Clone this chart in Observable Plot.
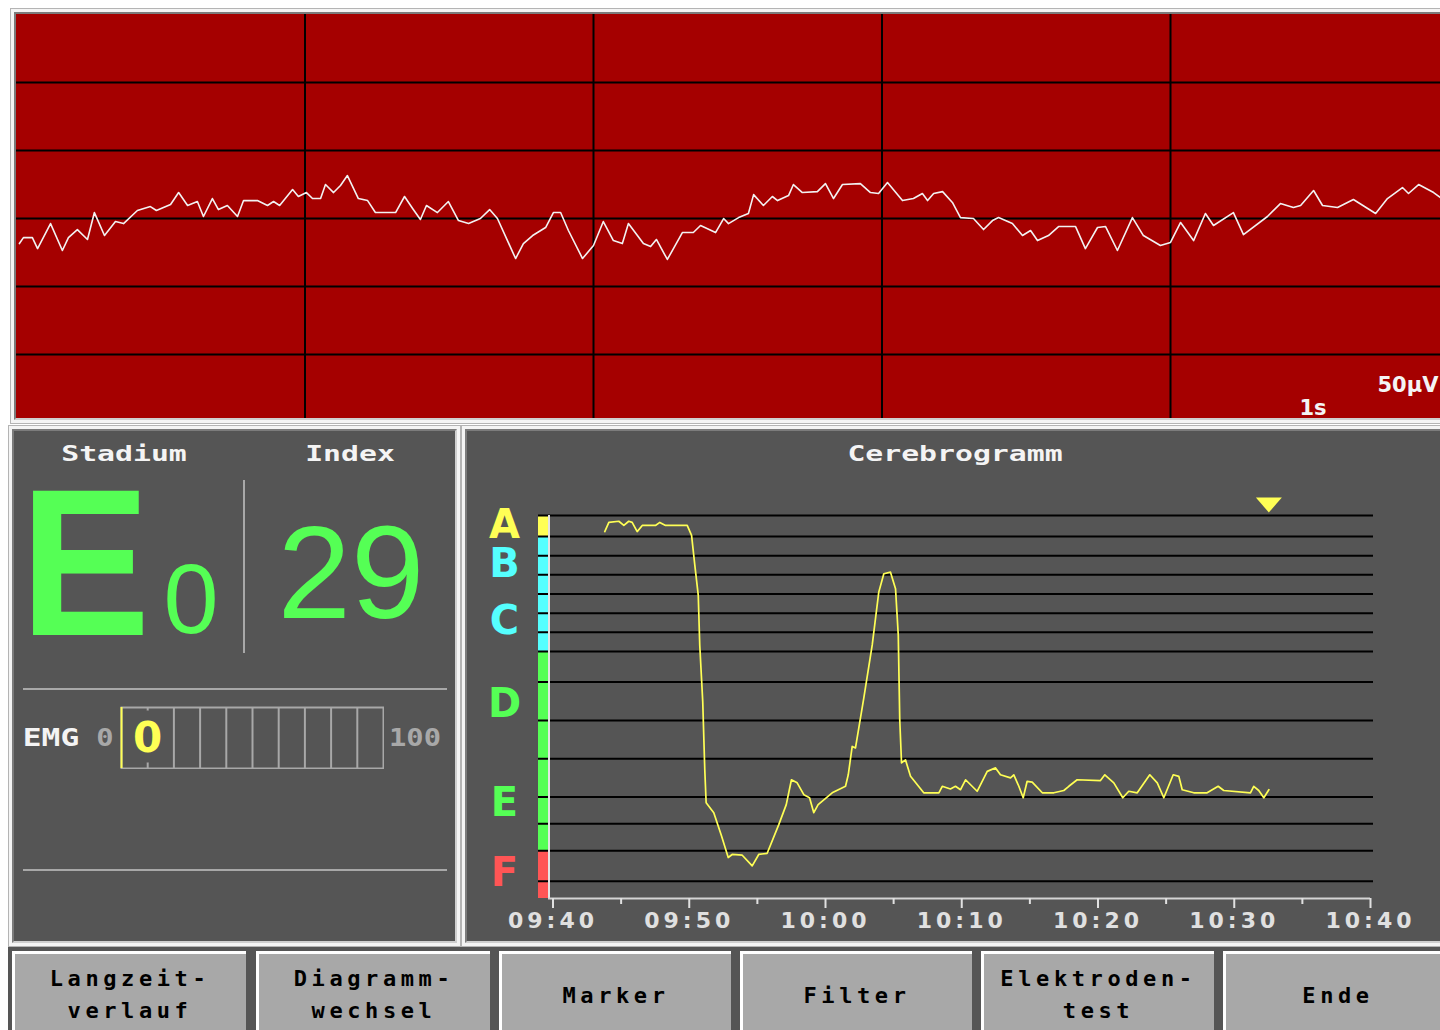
<!DOCTYPE html>
<html>
<head>
<meta charset="utf-8">
<script src="https://cdn.jsdelivr.net/npm/d3@7"></script>
<script src="https://cdn.jsdelivr.net/npm/@observablehq/plot@0.6"></script>
<style>
html, body { margin:0; padding:0; background:#ffffff; }
#screen { position:relative; width:1440px; height:1030px; overflow:hidden; background:#ffffff; }
.bev { position:absolute; background:#b4b4b4; }
.bev > .hi { position:absolute; left:1px; top:1px; right:1px; bottom:1px; background:#f4f4f4; }
.bev > .hi > .fill { position:absolute; left:3px; top:3px; right:3px; bottom:3px; box-sizing:border-box; border:2px solid; border-color:#7c7c7c #cfcfcf #cfcfcf #7c7c7c; }
.btn { position:absolute; top:951px; height:82px; box-sizing:border-box; background:#a8a8a8; border-top:3px solid #ffffff; border-left:3px solid #ffffff; }
#cg text { letter-spacing: 4px; }
</style>
</head>
<body>
<div id="screen"></div>
<script>
// ---------------- DATA ----------------
// Raw EEG (top trace): time in seconds, amplitude in µV
const eegSeconds = [0.010,0.024,0.055,0.073,0.118,0.159,0.180,0.211,0.246,0.270,0.305,0.343,0.371,0.419,0.464,0.485,0.534,0.562,0.593,0.627,0.648,0.679,0.700,0.731,0.766,0.787,0.835,0.870,0.891,0.912,0.957,0.977,1.005,1.026,1.054,1.071,1.099,1.123,1.147,1.185,1.217,1.244,1.314,1.345,1.373,1.400,1.421,1.459,1.497,1.532,1.567,1.608,
1.640,1.667,1.730,1.757,1.789,1.834,1.861,1.886,1.913,1.962,2.000,2.034,2.069,2.100,2.121,2.173,2.198,2.218,2.256,2.308,2.346,2.371,2.423,2.451,2.468,2.503,2.537,2.555,2.589,2.620,2.638,2.676,2.693,2.724,2.776,2.804,2.832,2.863,2.925,2.960,2.988,3.019,3.071,3.109,3.140,3.158,3.179,3.210,3.244,3.272,
3.317,3.352,3.383,3.404,3.452,3.487,3.515,3.539,3.577,3.612,3.671,3.705,3.747,3.775,3.816,3.868,3.906,3.965,4.000,4.035,4.080,4.121,4.149,4.218,4.253,4.336,4.381,4.426,4.451,4.496,4.527,4.579,4.634,4.711,4.752,4.804,4.825,4.860,4.912,4.936];
const eegMicrovolts = [-18.4,-14.0,-14.0,-22.1,-3.7,-23.5,-14.0,-8.1,-15.4,4.4,-12.5,-2.2,-3.7,5.9,8.8,5.9,10.3,19.1,9.6,12.5,1.5,14.7,6.6,9.6,1.5,13.2,13.2,9.6,12.5,9.6,21.3,16.2,19.1,14.7,14.7,25.0,19.1,24.3,31.6,14.7,13.2,4.4,4.4,16.2,7.4,-0.7,9.6,4.4,12.5,-1.5,-3.7,0,
6.6,0,-29.4,-18.4,-12.5,-6.6,4.4,4.4,-8.8,-29.4,-19.8,-2.2,-16.2,-18.4,-3.7,-18.4,-20.6,-15.4,-30.1,-10.3,-10.3,-5.1,-10.3,0,-3.7,0.7,3.7,17.6,9.6,16.2,13.2,16.9,25.0,19.1,19.8,25.7,14.7,25.0,25.7,19.1,18.4,26.5,13.2,14.7,18.4,13.2,18.4,19.8,11.8,0.7,
0,-8.1,-1.5,0.7,-3.7,-12.5,-8.8,-16.2,-12.5,-5.9,-5.9,-22.1,-6.6,-5.9,-23.5,0.7,-12.5,-19.8,-17.6,-2.9,-16.2,3.7,-5.1,4.4,-11.8,1.5,11.0,8.1,9.6,20.6,9.6,8.1,14.0,3.7,14.7,22.8,18.4,25.0,19.1,15.4];
const eegGridSeconds = [1, 2, 3, 4];
const eegGridMicrovolts = [100, 50, 0, -50, -100];
const eegVisibleSeconds = [0, 5];
const eegVisibleMicrovolts = [-147, 150];
const eegTimeScaleLabel = ["1s"];
const eegAmplitudeScaleLabel = ["50µV"];

// Cerebrogramm: minutes after 09:40, Narcotrend index (0–100)
const cgMinutes = [3.80,4.10,4.83,5.20,5.56,5.81,6.18,6.55,7.52,7.84,8.26,9.85,10.17,10.41,10.66,10.77,10.99,11.14,11.24,11.80,12.37,12.86,13.15,13.89,14.62,15.10,15.72,16.57,17.12,17.50,17.92,18.41,18.83,19.14,19.46,20.49,21.47,21.67,21.96,22.20,22.81,23.43,23.91,24.28,24.77,25.14,25.34,25.45,25.58,25.87,26.24,27.21,28.32,28.57,29.17,29.54,29.91,30.28,31.13,31.87,32.48,32.84,33.58,33.82,34.19,34.51,34.80,35.17,35.91,36.76,37.49,37.86,38.47,40.18,40.50,41.16,41.82,42.26,42.88,43.80,44.35,44.83,45.52,45.93,46.18,47.03,48.01,48.82,49.23,51.19,51.43,51.80,52.17,52.54];
const cgIndex = [95.8,98.2,98.5,97.4,98.5,98.2,95.8,97.4,97.4,98.2,97.4,97.4,94.8,87.0,79.2,66.2,51.4,33.6,25.0,22.4,16.3,10.7,11.5,11.3,8.5,11.5,11.8,19.3,24.5,31.0,30.2,27.1,26.3,22.4,24.5,27.6,29.3,32.3,39.7,39.3,52.3,66.2,80.0,84.8,85.2,80.9,68.8,46.6,35.4,36.2,31.9,27.6,27.6,29.3,28.6,29.3,28.4,31.0,28.0,33.2,34.1,32.3,31.5,32.3,29.3,26.3,30.6,30.4,27.6,27.6,28.2,29.3,31.0,30.8,32.3,30.2,26.3,28.0,27.6,32.3,30.2,26.3,32.3,31.9,28.4,27.6,27.6,29.3,28.2,27.6,29.3,28.2,26.3,28.4];
const cgCurrentMinute = [52.54];
const cgMinuteDomain = [0, 60];
const cgIndexDomain = [0, 100];
const stageLetters = ["A", "B", "C", "D", "E", "F"];
const stageUpper = [100, 94.5, 79.5, 64.5, 36.5, 12.5];
const stageLower = [94.5, 79.5, 64.5, 36.5, 12.5, 0];
const substageBoundaries = [100, 94.5, 89.5, 84.5, 79.5, 74.5, 69.5, 64.5, 56.5, 46.5, 36.5, 26.5, 19.5, 12.5, 4.5];
const timeTickMinutes = [0, 10, 20, 30, 40, 50, 60];
const timeTickLabels = ["09:40", "09:50", "10:00", "10:10", "10:20", "10:30", "10:40"];
const timeMinorMinutes = [5, 15, 25, 35, 45, 55];

// Stadium / Index / EMG
const stadiumStage = "E";
const stadiumSubstage = "0";
const narcotrendIndex = 29;
const emgValue = [0];
const emgDomain = [0, 100];
const emgGrid = [10, 20, 30, 40, 50, 60, 70, 80, 90];
const emgEndLabels = ["0", "100"];

// Texts
const panelTitles = ["Stadium", "Index", "Cerebrogramm"];
const buttonLabels = [["Langzeit-", "verlauf"], ["Diagramm-", "wechsel"], ["Marker"], ["Filter"], ["Elektroden-", "test"], ["Ende"]];

// ---------------- STYLE ----------------
const stageColor = {A: "#ffff55", B: "#55ffff", C: "#55ffff", D: "#55ff55", E: "#55ff55", F: "#ff5555"};
const GREEN = "#55ff55", YELLOW = "#ffff55", PANEL = "#555555", LINEGRAY = "#a8a8a8";

const screen = document.getElementById("screen");
function bevel(x, y, w, h, fill) {
  const o = document.createElement("div"); o.className = "bev";
  Object.assign(o.style, {left: x + "px", top: y + "px", width: w + "px", height: h + "px"});
  const hi = document.createElement("div"); hi.className = "hi";
  const f = document.createElement("div"); f.className = "fill"; f.style.background = fill;
  hi.appendChild(f); o.appendChild(hi); screen.appendChild(o);
}
function place(node, x, y, id) {
  node.style.position = "absolute"; node.style.left = x + "px"; node.style.top = y + "px";
  node.style.maxWidth = "none";
  if (id) node.id = id;
  screen.appendChild(node);
}

// panels
bevel(10, 8, 1500, 416, "#a50000");
bevel(8, 425, 453, 522, PANEL);
bevel(461, 425, 1000, 522, PANEL);
const bar = document.createElement("div");
Object.assign(bar.style, {position: "absolute", left: "8px", top: "947px", width: "1440px", height: "90px", background: PANEL});
screen.appendChild(bar);
const buttonX = [[12, 246], [256, 490], [499, 731], [740, 972], [981, 1214], [1223, 1460]];
buttonX.forEach(([a, b]) => {
  const d = document.createElement("div"); d.className = "btn";
  d.style.left = a + "px"; d.style.width = (b - a) + "px";
  screen.appendChild(d);
});

// ---------------- EEG ----------------
const eegData = eegSeconds.map((t, i) => ({t, v: eegMicrovolts[i]}));
const eegPlot = Plot.plot({
  width: 1443, height: 404, margin: 0,
  x: {domain: eegVisibleSeconds, range: [0, 1442.5], axis: null, label: null},
  y: {domain: eegVisibleMicrovolts, axis: null, label: null},
  style: {background: "#a50000", fontFamily: "DejaVu Sans", fontWeight: "bold", maxWidth: "none"},
  marks: [
    Plot.ruleX(eegGridSeconds, {stroke: "#000", strokeWidth: 2}),
    Plot.ruleY(eegGridMicrovolts, {stroke: "#000", strokeWidth: 2}),
    Plot.line(eegData, {x: "t", y: "v", stroke: "#f2f2f2", strokeWidth: 1.6}),
    Plot.text(eegTimeScaleLabel, {text: d => d, frameAnchor: "bottom-left", textAnchor: "start", lineAnchor: "bottom", dx: 1283, dy: -4, fill: "#f4f4f4", fontSize: 21}),
    Plot.text(eegAmplitudeScaleLabel, {text: d => d, frameAnchor: "bottom-left", textAnchor: "start", lineAnchor: "bottom", dx: 1361, dy: -27, fill: "#f4f4f4", fontSize: 21})
  ]
});
place(eegPlot, 16, 14, "eeg");

// ---------------- CEREBROGRAMM ----------------
const cgData = cgMinutes.map((m, i) => ({m, v: cgIndex[i]}));
const stages = stageLetters.map((s, i) => ({s, hi: stageUpper[i], lo: stageLower[i], mid: (stageUpper[i] + stageLower[i]) / 2}));
const flatTriangle = {
  draw(ctx, size) {
    const r = Math.sqrt(size / Math.PI);
    ctx.moveTo(-1.3 * r, -0.75 * r); ctx.lineTo(1.3 * r, -0.75 * r); ctx.lineTo(0, 0.75 * r); ctx.closePath();
  }
};
const cgPlot = Plot.plot({
  width: 975, height: 517, marginLeft: 73, marginRight: 67, marginTop: 87, marginBottom: 47,
  x: {domain: cgMinuteDomain, range: [87.5, 905], label: null},
  y: {domain: cgIndexDomain, axis: null, label: null},
  color: {type: "identity"},
  style: {background: "transparent", fontFamily: "DejaVu Sans", fontWeight: "bold", fontSize: "22px", color: "#ececec", maxWidth: "none"},
  marks: [
    Plot.rect(stages, {y1: "lo", y2: "hi", fill: d => stageColor[d.s], insetRight: 825}),
    Plot.ruleY(substageBoundaries, {stroke: "#000", strokeWidth: 2}),
    Plot.ruleX([0], {dx: -4, stroke: "#e4e4e4", strokeWidth: 2}),
    Plot.ruleY([0], {stroke: "#d4d4d4", strokeWidth: 2, insetLeft: 10, insetRight: 3}),
    Plot.axisX(timeTickMinutes, {tickSize: 10, tickPadding: 4, strokeWidth: 2, color: "#e0e0e0", label: null,
      tickFormat: d => timeTickLabels[timeTickMinutes.indexOf(d)]}),
    Plot.axisX(timeMinorMinutes, {tickSize: 6, strokeWidth: 2, color: "#e0e0e0", label: null, tickFormat: () => ""}),
    Plot.text(stages, {y: "mid", text: "s", frameAnchor: "left", textAnchor: "middle", dx: -32, fill: d => stageColor[d.s], fontSize: 40, fontWeight: "bold", lineHeight: 0.9}),
    Plot.line(cgData, {x: "m", y: "v", stroke: YELLOW, strokeWidth: 1.7}),
    Plot.dot(cgCurrentMinute, {x: d => d, frameAnchor: "top", dy: -10.5, symbol: flatTriangle, r: 10, fill: YELLOW, stroke: "none"})
  ]
});
place(cgPlot, 465, 428, "cg");

// ---------------- EMG ----------------
const emgPlot = Plot.plot({
  width: 264, height: 63, margin: 1,
  x: {domain: emgDomain, axis: null, label: null},
  y: {axis: null},
  style: {background: "transparent", maxWidth: "none"},
  marks: [
    Plot.frame({stroke: LINEGRAY, strokeWidth: 2}),
    Plot.ruleX(emgGrid.slice(0, 1), {stroke: LINEGRAY, strokeWidth: 2}),
    Plot.text(emgValue, {text: d => String(d), frameAnchor: "left", textAnchor: "middle", dx: 26, dy: 1, fill: YELLOW, stroke: PANEL, strokeWidth: 20, fontSize: 42, fontWeight: "bold", fontFamily: "DejaVu Sans"}),
    Plot.ruleX(emgGrid.slice(1), {stroke: LINEGRAY, strokeWidth: 2}),
    Plot.ruleX(emgValue, {stroke: YELLOW, strokeWidth: 2})
  ]
});
place(emgPlot, 120, 706, "emg");

// ---------------- STATIC TEXT OVERLAY ----------------
const ov = d3.select(screen).append("svg")
  .attr("width", 1440).attr("height", 1030)
  .style("position", "absolute").style("left", "0px").style("top", "0px").style("pointer-events", "none");
function label(x, y, s, o) {
  const t = ov.append("text")
    .attr("transform", `translate(${x},${y}) scale(${o.sx || 1},1)`)
    .attr("text-anchor", o.anchor || "middle")
    .attr("font-family", o.family || "DejaVu Sans Mono")
    .attr("font-weight", o.weight || "bold")
    .attr("font-size", o.size)
    .attr("fill", o.fill || "#fff")
    .text(s);
  if (o.ls) t.style("letter-spacing", o.ls + "px");
  return t;
}
// panel titles
label(124, 461, panelTitles[0], {size: 21, sx: 1.42, fill: "#f4f4f4"});
label(350, 461, panelTitles[1], {size: 21, sx: 1.42, fill: "#f4f4f4"});
label(955, 461, panelTitles[2], {size: 21, sx: 1.42, fill: "#f4f4f4"});
// stadium and index
label(20, 635, stadiumStage, {size: 210, family: "Liberation Sans", anchor: "start", sx: 0.93, fill: GREEN});
label(191, 633, stadiumSubstage, {size: 99, family: "Liberation Sans", weight: "normal", fill: GREEN});
label(351, 618, String(narcotrendIndex), {size: 132, family: "Liberation Sans", weight: "normal", fill: GREEN});
// separators
ov.append("line").attr("x1", 244).attr("x2", 244).attr("y1", 480).attr("y2", 653).attr("stroke", LINEGRAY).attr("stroke-width", 2);
ov.append("line").attr("x1", 23).attr("x2", 447).attr("y1", 689).attr("y2", 689).attr("stroke", LINEGRAY).attr("stroke-width", 2);
ov.append("line").attr("x1", 23).attr("x2", 447).attr("y1", 870).attr("y2", 870).attr("stroke", LINEGRAY).attr("stroke-width", 2);
// EMG labels
label(51, 746, "EMG", {size: 24, sx: 1.3, fill: "#f4f4f4"});
label(105, 746, emgEndLabels[0], {size: 24, sx: 1.2, fill: "#a8a8a8"});
label(415, 746, emgEndLabels[1], {size: 24, sx: 1.2, fill: "#a8a8a8"});
// buttons
buttonLabels.forEach((lines, i) => {
  const [a, b] = buttonX[i];
  const cx = i === 5 ? 1338 : (a + b) / 2 + 1;
  if (lines.length === 2) {
    label(cx, 986, lines[0], {size: 22, ls: 4.6, fill: "#000"});
    label(cx, 1018, lines[1], {size: 22, ls: 4.6, fill: "#000"});
  } else {
    label(cx, 1003, lines[0], {size: 22, ls: 4.6, fill: "#000"});
  }
});
</script>
</body>
</html>
